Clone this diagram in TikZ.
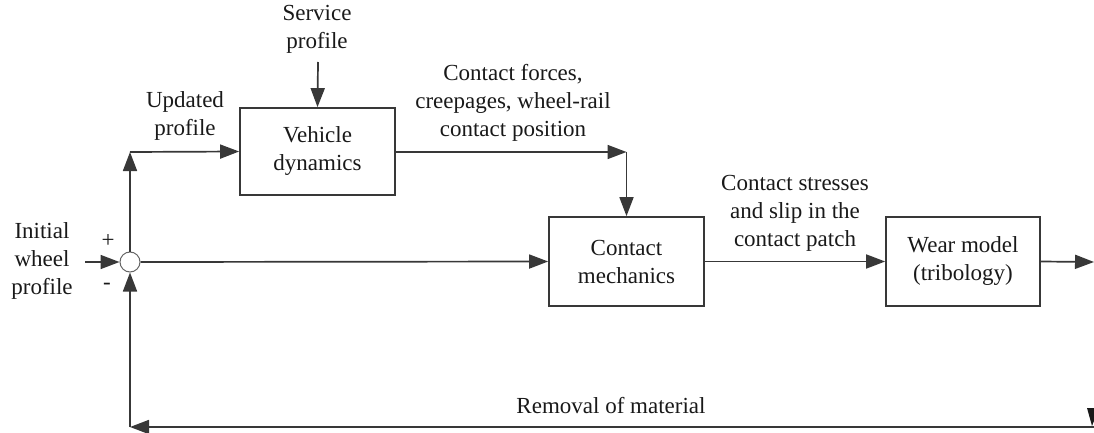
\documentclass[tikz,border=0pt]{standalone}
\usepackage{fontspec}
\setmainfont{Liberation Serif}
\usetikzlibrary{arrows.meta}
\begin{document}
\begin{tikzpicture}[x=1pt,y=-1pt,
  every node/.style={font=\fontsize{23}{28}\selectfont, text=black!90},
  line/.style={draw=black!78, line width=1.7pt},
  arr/.style={line, -{Triangle[length=19pt,width=14pt]}},
  blk/.style={draw=black!78, line width=1.7pt, rectangle, align=center, inner sep=0pt},
  lbl/.style={align=center, inner sep=0pt}]
\useasboundingbox (0,0) rectangle (1094,433);
% blocks
\node[blk, minimum width=155pt, minimum height=87pt] (vd) at (317.5,151.5) {Vehicle\\dynamics};
\node[blk, minimum width=155pt, minimum height=89pt] (cm) at (626.5,261.5) {Contact\\mechanics};
\node[blk, minimum width=154pt, minimum height=89pt] (wm) at (963,261.5) {Wear model\\(tribology)};
\node[circle, draw=black!60, line width=1pt, minimum size=20pt, inner sep=0pt] (sum) at (130,262) {};
% coordinates
\coordinate (init) at (85,262);
\coordinate (c1) at (130,152);
\coordinate (sp) at (318,62);
\coordinate (c2) at (626.5,152);
\coordinate (out) at (1094,262);
\coordinate (c3) at (130,427);
\coordinate (c4) at (1094,427);
% connectors
\draw[arr] (init) -- (sum.west);
\draw[arr] (sum.east) -- (cm.west);
\draw[arr] (sum.north) -- (c1);
\draw[arr] (c1) -- (vd.west);
\draw[arr] (sp) -- (vd.north);
\draw[arr] (vd.east |- c2) -- (c2);
\draw[arr] (c2) -- (cm.north);
\draw[arr] (cm.east) -- (wm.west);
\draw[arr] (wm.east) -- (out);
\draw[arr] (c4) -- (c3);
\draw[arr] (c3) -- (sum.south);
\fill[black!90] (1087,408) -- (1099,408) -- (1092,426) -- cycle;
% labels
\node[lbl] (tinit) at (42,261) {Initial\\wheel\\profile};
\node[lbl] (tplus) at (108,241) {+};
\node[lbl] (tminus) at (107,286) {-};
\node[lbl] (tupd) at (185,116) {Updated\\profile};
\node[lbl] (tserv) at (317,29) {Service\\profile};
\node[lbl] (tcf) at (513,103) {Contact forces,\\creepages, wheel-rail\\contact position};
\node[lbl] (tcs) at (795,213) {Contact stresses\\and slip in the\\contact patch};
\node[lbl] (trem) at (611,406) {Removal of material};
\end{tikzpicture}
\end{document}
